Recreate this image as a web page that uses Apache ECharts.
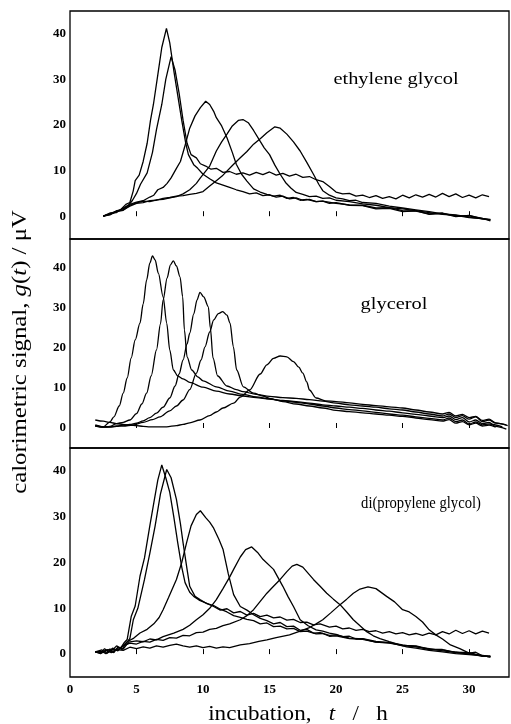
<!DOCTYPE html>
<html>
<head>
<meta charset="utf-8">
<script src="https://cdn.jsdelivr.net/npm/echarts/dist/echarts.min.js"></script>
<style>
  html, body { margin: 0; background: #fff; }
  #chart { width: 511px; height: 724px; }
</style>
</head>
<body>
<div id="chart"></div>
<script>
// tick labels
const xTicks = [0, 5, 10, 15, 20, 25, 30]
const yTicks = [0, 10, 20, 30, 40]

// ethylene glycol  [t / h, g / uV]
const egA = [[2.5,0],[3,0.5],[3.4,0.9],[3.8,1.4],[4.2,2.6],[4.5,3],[4.75,5.5],[4.9,7.8],[5.2,9],[5.5,12],[5.8,16],[6.05,21],[6.27,24.5],[6.6,31],[6.9,37],[7.25,41.2],[7.5,38],[7.8,32],[8.1,26.5],[8.4,21],[8.7,16],[8.9,13.5],[9.3,11.3],[9.6,10.5],[10,9.2],[10.5,8.2],[11,7.3],[11.5,6.8],[12,6.3],[12.5,5.8],[13,5.4],[13.5,4.9],[14,5.1],[14.5,4.5],[15,4.7],[15.5,4.2],[16,4.4],[16.5,3.8],[17,4.0],[17.5,3.5],[18,3.7],[18.5,3.2],[19,3.3],[19.5,2.8],[20,3.0],[21,2.4],[22,2.3],[23,1.6],[24,1.7],[25,1.0],[26,1.2],[27,0.4],[28,0.6],[29,-0.1],[30,0.2],[31,-0.6],[31.6,-0.7]]
const egB = [[2.5,0],[3,0.3],[3.5,1.1],[4,1.6],[4.4,2.4],[4.7,3.5],[5,5],[5.3,7],[5.8,9.5],[6.2,14],[6.5,19],[6.9,24.5],[7.2,30],[7.6,35],[7.9,32],[8.2,27],[8.5,21],[8.8,16],[9.1,13.5],[9.5,12.8],[9.8,11.5],[10.2,11],[10.6,10.3],[11,10.5],[11.5,9.6],[12,9.8],[12.5,9.2],[13,9.5],[13.5,9.0],[14,9.6],[14.5,9.1],[15,9.7],[15.5,9.0],[16,9.4],[16.5,8.8],[17,9.2],[17.5,8.5],[18,8.7],[18.5,8.0],[19,7.6],[19.5,6.5],[20,5.3],[20.5,4.9],[21,5.0],[21.5,4.4],[22,4.6],[22.5,4.1],[23,4.5],[23.5,3.9],[24,4.3],[24.5,3.8],[25,4.6],[25.5,4.0],[26,4.7],[26.5,4.2],[27,4.8],[27.5,4.2],[28,5.0],[28.5,4.3],[29,4.9],[29.5,4.1],[30,4.6],[30.5,4.0],[31,4.7],[31.5,4.3]]
const egC = [[2.5,0],[3,0.7],[3.5,0.8],[4,1.8],[4.5,2.6],[5,3.1],[5.5,3.4],[6,4.2],[6.3,4.6],[6.6,5.8],[7,6.3],[7.3,7.2],[7.6,8.4],[8,10.5],[8.3,12],[8.6,15],[9,19.3],[9.4,22],[9.8,23.8],[10.2,25.2],[10.5,24.5],[10.8,23],[11,21.6],[11.4,19.8],[11.8,17.2],[12.2,14],[12.5,11.4],[12.9,9.2],[13.3,7.7],[13.8,6],[14.3,5.3],[14.8,4.8],[15.3,4.4],[15.8,4.6],[16.3,3.9],[16.8,4.1],[17.3,3.5],[17.8,3.7],[18.5,3.2],[19,3.3],[20,2.8],[21,2.5],[22,2.4],[23,1.8],[24,1.9],[25,1.2],[26,1.1],[27,0.5],[28,0.7],[29,0],[30,0.1],[31,-0.5],[31.6,-0.8]]
const egD = [[2.5,0],[3,0.4],[3.5,1],[4,1.3],[4.5,2.4],[5,2.9],[5.5,3.3],[6,3.2],[6.5,3.6],[7,3.7],[7.5,4.0],[8,4.3],[8.5,4.9],[9,5.8],[9.5,7.2],[9.8,8.4],[10.5,11],[11,14.3],[11.4,16.3],[11.8,18],[12.2,19.8],[12.65,21],[13,21.2],[13.4,20.5],[13.8,18.8],[14.3,16.4],[14.6,15],[15,13.5],[15.4,11.2],[15.8,9.2],[16.2,7.4],[16.6,6.2],[17,5.2],[17.5,4.8],[18,4.3],[18.5,4.4],[19,3.9],[19.5,4.0],[20,3.5],[21,3.2],[22,2.7],[23,2.4],[24,1.9],[25,1.6],[26,1.2],[27,0.8],[28,0.4],[29,0.2],[30,-0.3],[31,-0.5],[31.6,-1]]
const egE = [[2.5,0],[3,0.5],[3.5,1.2],[4,1.4],[4.5,2.2],[5,2.8],[5.5,3.0],[6,3.4],[6.5,3.5],[7,3.9],[7.5,4.1],[8,4.4],[8.5,4.5],[9,4.8],[9.5,5.0],[10,5.4],[10.5,6.6],[11,7.8],[11.5,9],[12.3,11.4],[12.8,12.8],[13.3,14.2],[13.8,15.8],[14.3,17],[14.8,18.3],[15.4,19.6],[15.8,19.3],[16.3,18],[16.8,16.3],[17.3,14.3],[17.8,11.8],[18.3,9.2],[18.7,7],[19,5.6],[19.5,4.6],[20,4.0],[20.5,3.8],[21,3.4],[21.5,3.5],[22,3.0],[23,2.8],[24,2.2],[25,1.8],[26,1.4],[27,1.0],[28,0.5],[29,0.3],[30,-0.2],[31,-0.6],[31.6,-0.8]]

// glycerol
const glyA = [[1.9,0.8],[2.5,0.3],[3,1.5],[3.3,2.8],[3.7,5.5],[4,8.7],[4.3,12.5],[4.6,17.5],[4.9,22],[5.26,26.2],[5.5,31],[5.76,37],[6,41.2],[6.2,43],[6.4,42],[6.64,38.7],[7,32.8],[7.27,26.2],[7.5,19.5],[7.77,14.5],[8.1,13],[8.5,12.3],[9,11.4],[10,10.2],[11,9.2],[12,8.5],[13,8.0],[14,7.6],[15,7.2],[16,6.9],[17,6.6],[18,6.2],[19,5.8],[20,5.5],[21,5.2],[22,4.9],[23,4.5],[24,4.2],[25,3.8],[26,3.4],[27,3.0],[28,2.6],[28.5,3.0],[29,2.1],[29.5,2.6],[30,1.5],[30.5,2.0],[31,1.1],[31.5,1.4],[32,0.4],[32.8,-0.3]]
const glyB = [[1.9,0.5],[2.5,0.2],[3,0.4],[3.5,1.1],[4,1.4],[4.5,2.0],[5,3.6],[5.4,6],[5.76,8.7],[6.1,13],[6.5,19.5],[6.8,26],[7,32],[7.3,37.5],[7.55,40.8],[7.77,41.8],[8.0,40.5],[8.27,37.8],[8.47,32.8],[8.6,24.5],[8.8,17.8],[9.15,14.5],[9.6,12.8],[10,11.8],[11,10.3],[12,9.2],[13,8.4],[14,7.8],[15,7.3],[16,6.8],[17,6.4],[18,6.0],[19,5.5],[20,5.0],[21,4.6],[22,4.3],[23,3.9],[24,3.5],[25,3.2],[26,2.8],[27,2.4],[28,2.0],[28.5,2.5],[29,1.6],[29.5,2.0],[30,1.0],[30.5,1.5],[31,0.8],[31.5,1.0],[32.5,0.3]]
const glyC = [[1.9,0.6],[2.5,0.3],[3,0.3],[3.5,0.5],[4,0.7],[4.5,0.9],[5,1.2],[5.5,1.8],[6,2.6],[6.5,3.7],[7,5.2],[7.5,7.5],[7.9,10.5],[8.2,13.5],[8.5,17],[8.8,21],[9,23.7],[9.3,28.5],[9.55,32],[9.77,33.9],[10.05,32.8],[10.4,30.3],[10.55,25],[10.75,17.5],[11.1,13],[11.8,10.5],[12.5,9.6],[13,9.1],[14,8.4],[15,7.9],[16,7.6],[17,7.4],[18,7.1],[19,6.7],[20,6.2],[21,5.8],[22,5.5],[23,5.2],[24,4.8],[25,4.5],[26,4.0],[27,3.5],[28,3.0],[28.5,3.5],[29,2.6],[29.5,3.1],[30,2.2],[30.5,2.8],[31,1.6],[31.5,2.0],[32,1.2],[32.8,0.8]]
const glyD = [[1.9,0.5],[2.5,0.3],[3,0.2],[3.5,0.4],[4,0.5],[4.76,0.75],[5.5,1.4],[6.2,2.1],[6.77,2.8],[7.5,4.3],[8,5.5],[8.5,7],[9,9.6],[9.5,13.7],[9.85,17],[10.15,20.3],[10.5,24],[10.8,27],[11.15,28.6],[11.48,29.1],[11.8,28.2],[12.03,26.2],[12.28,20.3],[12.53,14.5],[13.03,10.3],[13.8,8.7],[14.5,8.0],[15,7.4],[16,6.6],[17,6.0],[18,5.5],[19,5.0],[20,4.4],[21,4.1],[22,3.8],[23,3.5],[24,3.2],[25,2.9],[26,2.5],[27,2.1],[28,1.7],[28.5,2.1],[29,1.2],[29.5,1.6],[30,0.8],[30.5,1.2],[31,0.5],[31.5,0.7],[32,0.2]]
const glyE = [[1.9,2.0],[2.5,1.7],[3,1.4],[3.5,1.1],[4,0.9],[4.5,0.7],[5,0.6],[5.5,0.4],[6,0.3],[6.5,0.3],[7.27,0.3],[8,0.6],[8.5,0.9],[9,1.3],[9.77,2.0],[10.5,3.1],[11,4],[11.5,5],[12.3,6.2],[12.8,7.7],[13.5,9.5],[14.3,13.5],[14.8,15.8],[15.3,17.4],[15.8,18],[16.3,17.8],[16.8,16.6],[17.2,15.2],[17.5,13.7],[17.8,11.5],[18,9.5],[18.5,7.5],[19.2,6.8],[20,6.6],[21,6.3],[22,5.9],[23,5.6],[24,5.3],[25,5.0],[26,4.5],[27,4.0],[28,3.5],[28.5,3.9],[29,3.0],[29.5,3.4],[30,2.6],[30.5,2.9],[31,1.9],[31.5,2.2],[32,1.3],[32.9,0.6]]

// di(propylene glycol)
const dpgA = [[1.9,0.5],[2.3,0.2],[2.6,1.2],[2.9,0.4],[3.2,0.9],[3.5,1.8],[3.8,1.3],[4.1,2.6],[4.3,3.2],[4.6,8.2],[4.9,10.5],[5.26,17],[5.6,21],[6,28],[6.3,33],[6.6,38],[6.9,41.3],[7.2,38.5],[7.5,35.3],[7.8,30],[8.1,24.3],[8.4,19],[8.65,15.6],[9,13.5],[9.3,12.6],[9.7,11.8],[10.2,11.2],[10.8,10.4],[11.3,9.6],[11.8,9.9],[12.3,9.0],[12.8,9.3],[13.3,8.5],[13.8,8.9],[14.3,8.2],[14.8,8.5],[15.3,7.9],[15.8,8.1],[16.3,7.4],[16.8,7.6],[17.3,6.9],[17.8,7.0],[18.3,6.4],[18.8,6.6],[19.5,5.9],[20,6.1],[20.5,5.5],[21,5.7],[21.5,5.2],[22,5.4],[22.5,4.9],[23,5.1],[23.5,4.6],[24,4.9],[24.5,4.4],[25,4.7],[25.5,4.2],[26,4.5],[26.5,4.1],[27,4.6],[27.5,4.2],[28,4.9],[28.5,4.4],[29,5.2],[29.5,4.5],[30,5.1],[30.5,4.4],[31,5.0],[31.5,4.6]]
const dpgB = [[1.9,0.5],[2.4,0.6],[2.7,0.1],[3,0.8],[3.3,0.3],[3.6,1.5],[3.9,1.0],[4.2,2.3],[4.5,3.4],[4.76,7.5],[5.1,10],[5.6,16.3],[6,22],[6.4,28],[6.8,35],[7.27,40.3],[7.6,38.5],[8,33.8],[8.3,28.5],[8.5,24.3],[8.8,18.5],[9,14.8],[9.4,12.6],[9.77,11.9],[10.3,11.0],[10.8,10.6],[11.3,9.8],[11.8,9.2],[12.3,8.4],[12.8,8.0],[13.3,7.6],[13.8,7.3],[14.3,6.6],[14.8,6.8],[15.3,6.0],[15.8,6.1],[16.3,5.5],[16.8,5.6],[17.3,4.9],[17.8,5.0],[18.5,4.4],[19,4.5],[19.5,3.9],[20,4.0],[21,3.4],[22,3.2],[23,2.6],[24,2.4],[25,1.9],[26,1.8],[27,1.1],[28,1.0],[29,0.4],[30,0.3],[31,-0.4],[31.6,-0.6]]
const dpgC = [[1.9,0.5],[2.4,0.9],[2.8,0.2],[3.2,1.3],[3.6,0.7],[4,1.9],[4.3,2.7],[4.8,3.5],[5.26,4.6],[5.8,5.4],[6.3,6.6],[6.7,8],[7,9.7],[7.4,12.3],[8,16.3],[8.4,20],[8.77,24.4],[9.1,28],[9.5,30.5],[9.8,31.3],[10.2,29.8],[10.5,28.8],[10.8,27.5],[11.2,25],[11.5,22.9],[11.9,17.5],[12.3,13],[12.8,10.4],[13.3,9.6],[13.8,8.6],[14.3,7.8],[14.8,7.3],[15.3,6.6],[15.8,6.9],[16.3,6.0],[16.8,6.1],[17.3,5.2],[17.8,5.4],[18.3,4.6],[18.8,4.7],[19.5,4.1],[20,4.2],[21,3.5],[22,3.3],[23,2.6],[24,2.5],[25,1.8],[26,1.7],[27,1.0],[28,0.9],[29,0.3],[30,0.2],[31,-0.5],[31.6,-0.4]]
const dpgD = [[1.9,0.5],[2.4,0.3],[2.8,1.0],[3.2,0.4],[3.6,1.4],[4,1.1],[4.4,2.6],[5,2.9],[5.5,2.7],[6,3.3],[6.5,3.1],[7,3.8],[7.8,4.6],[8.5,5.4],[9,6.3],[9.5,7.5],[10,8.6],[10.5,10],[11,11.9],[11.5,14.3],[12,16.8],[12.3,18.5],[12.8,21.2],[13.2,22.8],[13.66,23.4],[14.1,22.2],[14.5,20.7],[15.3,18.5],[16,14.8],[16.4,12.5],[16.8,10.4],[17.3,7.5],[17.9,6.2],[18.5,5.3],[19,5.0],[19.5,4.6],[20,4.3],[20.5,3.8],[21,3.9],[21.5,3.3],[22,3.4],[23,2.8],[24,2.5],[25,2.0],[26,1.6],[27,1.2],[28,0.7],[29,0.4],[30,0],[31,-0.3],[31.6,-0.5]]
const dpgE = [[1.9,0.5],[2.5,0.4],[3,1.1],[3.5,0.8],[4,1.8],[4.5,2.4],[5,2.2],[5.5,2.8],[6,2.6],[6.5,3.2],[7,3.0],[7.5,3.6],[8,3.5],[8.5,4.1],[9,4.0],[9.5,4.7],[10,4.8],[10.5,5.4],[11,5.6],[11.5,6.2],[12,6.6],[12.8,7.5],[13.3,8.4],[13.8,9.7],[14.3,11.5],[14.8,13.3],[15.3,14.8],[15.8,16.3],[16.3,18],[16.7,19.2],[17.05,19.6],[17.5,19],[18.3,16.3],[18.8,14.8],[19.3,13.3],[19.8,12],[20.3,10.8],[20.8,9.2],[21.3,7.5],[21.8,6.2],[22.3,4.9],[22.8,4.0],[23.3,3.4],[24,2.7],[25.3,1.6],[26,1.3],[27,0.8],[28,0.5],[29,0.1],[30,-0.1],[31,-0.4],[31.6,-0.6]]
const dpgF = [[1.9,0.5],[2.3,0.1],[2.7,0.9],[3.1,0.3],[3.5,1.0],[4,0.8],[4.5,1.5],[5,1.2],[5.5,1.6],[6,1.3],[6.5,1.8],[7,1.5],[7.5,1.9],[8,2.2],[8.5,1.8],[9,1.5],[9.5,1.8],[10,1.4],[10.5,1.7],[11,1.3],[11.5,1.6],[12,1.4],[12.8,2.0],[13.5,2.3],[14.2,2.8],[14.8,3.1],[15.5,3.6],[16.5,4.2],[17.3,5.0],[18,5.8],[18.5,6.6],[19,7.5],[19.6,9],[20.3,10.8],[20.8,12],[21.3,13.3],[21.8,14.2],[22.4,14.7],[23,14.3],[23.8,12.6],[24.4,11.4],[25,9.7],[25.5,9.2],[26,8.2],[26.5,7.0],[27,5.3],[27.5,4.2],[28,3.3],[28.6,2.0],[29.3,1.2],[30,0.2],[30.5,0.4],[31,-0.4],[31.6,-0.6]]

const panels = [
  { curves: [egA, egB, egC, egD, egE], top: 11, height: 228, ymax: 45, smooth: false },
  { curves: [glyA, glyB, glyC, glyD, glyE], top: 239, height: 209, ymax: 47.25, smooth: 0.3 },
  { curves: [dpgA, dpgB, dpgC, dpgD, dpgE, dpgF], top: 448, height: 229, ymax: 45, smooth: false }
]

const serif = '"Liberation Serif", "DejaVu Serif", serif'

const chart = echarts.init(document.getElementById('chart'))

const grid = [], xAxis = [], yAxis = [], series = []
panels.forEach((p, i) => {
  grid.push({ left: 70, width: 439, top: p.top, height: p.height, show: true, borderColor: '#000', borderWidth: 1.3 })
  xAxis.push({
    type: 'value', gridIndex: i, min: 0, max: 33,
    axisLine: { show: false },
    axisTick: { show: true, inside: true, length: 5, customValues: xTicks.slice(1), lineStyle: { color: '#000', width: 1 } },
    axisLabel: { show: i === 2, customValues: xTicks, color: '#000', fontFamily: serif, fontWeight: 'bold', fontSize: 13, margin: 6 },
    splitLine: { show: false }
  })
  yAxis.push({
    type: 'value', gridIndex: i, min: -5, max: p.ymax,
    axisLine: { show: false },
    axisTick: { show: false },
    axisLabel: { customValues: yTicks, color: '#000', fontFamily: serif, fontWeight: 'bold', fontSize: 13, margin: 4 },
    splitLine: { show: false }
  })
  p.curves.forEach(c => {
    series.push({
      type: 'line', xAxisIndex: i, yAxisIndex: i, data: c,
      symbol: 'none', smooth: p.smooth, smoothMonotone: 'x',
      lineStyle: { color: '#000', width: 1.3 }, silent: true
    })
  })
})

const txt = (text, x, y, size, sx) => ({
  type: 'text', x: x, y: y, scaleX: sx, silent: true,
  style: { text: text, font: size + 'px ' + serif, fill: '#000', align: 'center', verticalAlign: 'middle', textAlign: 'center', textVerticalAlign: 'middle' }
})

const ital = { fontFamily: serif, fontSize: 21, fontStyle: 'italic', fill: '#000' }
const reg = { fontFamily: serif, fontSize: 21, fill: '#000' }

chart.setOption({
  animation: false,
  backgroundColor: '#fff',
  grid: grid,
  xAxis: xAxis,
  yAxis: yAxis,
  series: series,
  graphic: [
    txt('ethylene glycol', 396, 80, 17, 1.2),
    txt('glycerol', 394, 305, 17, 1.2),
    txt('di(propylene glycol)', 421, 504, 17, 0.86),
    {
      type: 'text', x: 298, y: 714, scaleX: 1.1, silent: true,
      style: {
        text: '{r|incubation,   }{i|t}{r|   /   h}',
        align: 'center', verticalAlign: 'middle', textAlign: 'center', textVerticalAlign: 'middle',
        rich: { r: reg, i: ital }
      }
    },
    {
      type: 'text', x: 20, y: 352, rotation: Math.PI / 2, scaleX: 1.18, silent: true,
      style: {
        text: '{r|calorimetric signal, }{i|g}{r|(}{i|t}{r|) / μV}',
        align: 'center', verticalAlign: 'middle', textAlign: 'center', textVerticalAlign: 'middle',
        rich: { r: reg, i: ital }
      }
    }
  ]
})
</script>
</body>
</html>
